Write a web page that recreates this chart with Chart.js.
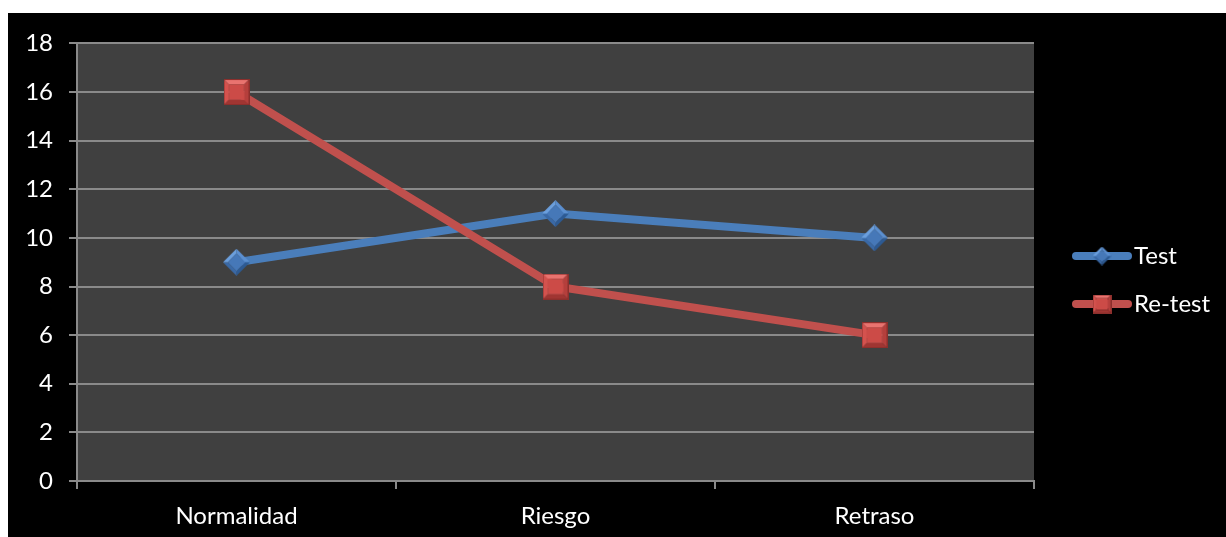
<!DOCTYPE html>
<html>
<head>
<meta charset="utf-8">
<script src="https://cdn.jsdelivr.net/npm/chart.js@4"></script>
<style>
    html, body { margin: 0; padding: 0; background: #fff; }
    #wrap { position: absolute; left: 8px; top: 13px; width: 1218px; height: 524px; background: #000; }
</style>
</head>
<body>
<div id="wrap"><canvas id="chart" width="1218" height="524"></canvas></div>
<script>
const categories = ["Normalidad", "Riesgo", "Retraso"],
    testValues = [9, 11, 10],
    retestValues = [16, 8, 6],
    seriesNames = ["Test", "Re-test"],
    yTicks = [0, 2, 4, 6, 8, 10, 12, 14, 16, 18];

const BLUE = "#4a7ebb", RED = "#c0504d", FONT = "Lato, 'Liberation Sans', sans-serif";

// beveled marker images, excel style
function makeDiamond(size) {
    const c = document.createElement("canvas");
    c.width = c.height = size;
    const g = c.getContext("2d"), h = size / 2, k = size * 0.18;
    const facet = (pts, col) => {
        g.beginPath();
        pts.forEach((p, i) => i ? g.lineTo(p[0], p[1]) : g.moveTo(p[0], p[1]));
        g.closePath();
        g.fillStyle = col;
        g.fill();
    };
    const T = [h, 0], R = [size, h], B = [h, size], L = [0, h];
    const t = [h, k], r = [size - k, h], b = [h, size - k], l = [k, h];
    facet([T, R, r, t], "#5b8fd0");
    facet([R, B, b, r], "#2d5a93");
    facet([B, L, l, b], "#3a69a6");
    facet([L, T, t, l], "#6b9fdd");
    facet([t, r, b, l], "#4678b8");
    return c;
}

function makeSquare(size) {
    const c = document.createElement("canvas");
    c.width = c.height = size;
    const g = c.getContext("2d"), k = size * 0.2, s = size;
    const facet = (pts, col) => {
        g.beginPath();
        pts.forEach((p, i) => i ? g.lineTo(p[0], p[1]) : g.moveTo(p[0], p[1]));
        g.closePath();
        g.fillStyle = col;
        g.fill();
    };
    facet([[0, 0], [s, 0], [s - k, k], [k, k]], "#e9736f");
    facet([[s, 0], [s, s], [s - k, s - k], [s - k, k]], "#b53f3c");
    facet([[s, s], [0, s], [k, s - k], [s - k, s - k]], "#a03532");
    facet([[0, s], [0, 0], [k, k], [k, s - k]], "#d4524e");
    facet([[k, k], [s - k, k], [s - k, s - k], [k, s - k]], "#cc4b47");
    g.strokeStyle = "#8c2f2c";
    g.lineWidth = 1;
    g.strokeRect(0.5, 0.5, s - 1, s - 1);
    return c;
}

const markers = [makeDiamond(27), makeSquare(26)],
    legendMarkers = [makeDiamond(19), makeSquare(19)],
    colors = [BLUE, RED];

const plotBg = {
    id: "plotBg",
    beforeDraw(chart) {
        const { ctx, chartArea: a } = chart;
        ctx.save();
        ctx.fillStyle = "#404040";
        ctx.fillRect(a.left, a.top, a.right - a.left, a.bottom - a.top);
        ctx.restore();
    }
};

const sideLegend = {
    id: "sideLegend",
    afterDraw(chart) {
        const ctx = chart.ctx;
        ctx.save();
        seriesNames.forEach((name, i) => {
            const y = 243 + i * 48;
            ctx.strokeStyle = colors[i];
            ctx.lineWidth = 8;
            ctx.lineCap = "round";
            ctx.beginPath();
            ctx.moveTo(1068, y);
            ctx.lineTo(1120, y);
            ctx.stroke();
            const m = legendMarkers[i];
            ctx.drawImage(m, 1094 - m.width / 2, y - m.height / 2);
            ctx.fillStyle = "#fff";
            ctx.font = "24px " + FONT;
            ctx.textBaseline = "middle";
            ctx.fillText(name, 1126, y);
        });
        ctx.restore();
    }
};

new Chart(document.getElementById("chart"), {
    type: "line",
    data: {
        labels: categories,
        datasets: [{
            label: seriesNames[0],
            data: testValues,
            order: 1,
            borderColor: BLUE,
            backgroundColor: BLUE,
            borderWidth: 8,
            pointStyle: markers[0],
            tension: 0,
        }, {
            label: seriesNames[1],
            data: retestValues,
            order: 0,
            borderColor: RED,
            backgroundColor: RED,
            borderWidth: 8,
            pointStyle: markers[1],
            tension: 0,
        }]
    },
    options: {
        responsive: false,
        animation: false,
        layout: { padding: { top: 30, right: 192, left: 0, bottom: 0 } },
        plugins: {
            legend: { display: false },
            tooltip: { enabled: false },
        },
        scales: {
            x: {
                offset: true,
                grid: {
                    offset: true,
                    drawOnChartArea: false,
                    drawTicks: true,
                    tickLength: 8,
                    color: "#8a8a8a",
                    lineWidth: 2,
                },
                border: { color: "#8a8a8a", width: 2 },
                ticks: { color: "#fff", font: { family: FONT, size: 24 }, padding: 13 },
                afterFit: s => { s.height = 56; },
            },
            y: {
                min: 0,
                max: 18,
                afterBuildTicks: s => { s.ticks = yTicks.map(v => ({ value: v })); },
                grid: {
                    color: "#8a8a8a",
                    lineWidth: 2,
                    tickLength: 8,
                },
                border: { color: "#8a8a8a", width: 2 },
                ticks: { color: "#fff", font: { family: FONT, size: 24 }, padding: 16 },
                afterFit: s => { s.width = 69; },
            }
        }
    },
    plugins: [plotBg, sideLegend]
});
</script>
</body>
</html>
